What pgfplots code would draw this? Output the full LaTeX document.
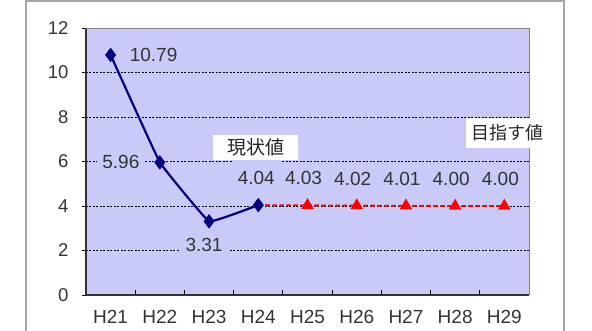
\documentclass[border=0pt]{standalone}
\usepackage{fontspec}
\setmainfont{Liberation Sans}
\newfontfamily\jp{Noto Sans CJK JP}
\usepackage{pgfplots}
\pgfplotsset{compat=1.18}
\definecolor{bgc}{HTML}{CACAF8}
\definecolor{navyc}{HTML}{000080}
\definecolor{txt}{HTML}{333333}
\tikzset{
  lab/.style={font=\fontsize{19}{21}\selectfont, text=txt, fill=bgc, inner xsep=5pt, inner ysep=3pt},
  labb/.style={font=\fontsize{19}{21}\selectfont, text=txt, fill=bgc, inner xsep=6pt, inner ysep=10pt},
}
\begin{document}
\begin{tikzpicture}[x=1pt,y=1pt]
\path[use as bounding box] (-86,-36) rectangle (506,295);
\draw[gray!70, line width=1.2pt] (-60,-40) -- (-60,294) -- (478,294) -- (478,-40);
\begin{axis}[at={(0,0)}, anchor=south west, scale only axis,
  width=443pt, height=267pt,
  xmin=-0.5, xmax=8.5, ymin=0, ymax=12,
  xtick={0,...,8},
  xticklabels={H21,H22,H23,H24,H25,H26,H27,H28,H29},
  minor xtick={0.5,1.5,...,7.5},
  ytick={0,2,...,12},
  /pgf/number format/assume math mode=true,
  tick align=inside,
  major x tick style={draw=none},
  minor x tick style={black, line width=0.8pt},
  minor tick length=5pt,
  ytick style={black, line width=0.8pt, xshift=-4pt},
  major tick length=4pt,
  axis lines*=left,
  axis line style={-, black!80, line width=1.3pt},
  axis background/.style={fill=bgc},
  ymajorgrids,
  major grid style={black, line width=0.6pt, dash pattern=on 2pt off 1.5pt},
  yticklabel style={font=\fontsize{18.5}{20}\selectfont, text=txt, xshift=-14pt},
  xticklabel style={font=\fontsize{19}{20}\selectfont, text=txt, yshift=-12pt},
  clip=false,
]
\draw[gray, line width=0.8pt] (rel axis cs:0,1) -- (rel axis cs:1,1) -- (rel axis cs:1,0);
\addplot[red, line width=1.8pt, dash pattern=on 4.5pt off 2.5pt, mark=triangle*, mark size=5.5pt,
  mark options={solid, fill=red}, mark indices={2,3,4,5,6}]
  coordinates {(3,4.04)(4,4.03)(5,4.02)(6,4.01)(7,4.00)(8,4.00)};
\addplot[navyc, line width=2.2pt, smooth, tension=0.12, mark=diamond*, mark size=5.5pt,
  mark options={solid, fill=navyc}]
  coordinates {(0,10.79)(1,5.96)(2,3.31)(3,4.04)};
\node[lab, xshift=43pt] at (axis cs:0,10.79) {10.79};
\node[lab, xshift=-39pt] at (axis cs:1,5.96) {5.96};
\node[lab, xshift=-5pt, yshift=-24pt] at (axis cs:2,3.31) {3.31};
\node[labb, xshift=-2pt, yshift=27pt] at (axis cs:3,4.04) {4.04};
\node[labb, xshift=-4pt, yshift=27pt] at (axis cs:4,4.03) {4.03};
\node[labb, xshift=-4pt, yshift=27pt] at (axis cs:5,4.02) {4.02};
\node[labb, xshift=-4pt, yshift=27pt] at (axis cs:6,4.01) {4.01};
\node[labb, xshift=-4pt, yshift=27pt] at (axis cs:7,4.00) {4.00};
\node[labb, xshift=-4pt, yshift=27pt] at (axis cs:8,4.00) {4.00};
\node[fill=white, minimum width=85pt, minimum height=25pt, inner sep=0pt,
  font=\jp\fontsize{19}{21}\selectfont, text=black!85] at (axis cs:2.944,6.63) {現状値};
\node[fill=white, minimum width=84pt, minimum height=30pt, inner sep=0pt,
  font=\jp\fontsize{18}{20}\selectfont, text=black!85] at (axis cs:8.07,7.28) {目指す値};
\end{axis}
\end{tikzpicture}
\end{document}
